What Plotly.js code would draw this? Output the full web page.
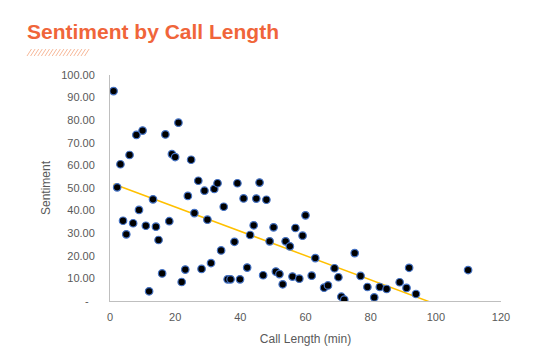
<!DOCTYPE html>
<html>
<head>
<meta charset="utf-8">
<script src="https://cdn.plot.ly/plotly-3.0.1.min.js"></script>
<style>
  html, body { margin: 0; padding: 0; background: #ffffff; }
  #chart { width: 546px; height: 357px; }
</style>
</head>
<body>
<div id="chart"></div>
<script>
// Call length (minutes)
const callLength = [
  1.1, 3.2, 6.0, 8.1, 10.0, 17.0, 21.0, 19.0, 20.0, 24.9,
  27.1, 29.0, 32.0, 33.0, 2.2, 23.9, 13.2, 34.9, 8.9, 4.0,
  7.1, 5.0, 11.0, 14.1, 18.2, 25.9, 29.9, 14.9, 34.1, 31.0,
  28.1, 23.1, 16.0, 22.0, 12.0, 36.1, 37.0, 39.9, 39.1, 45.9,
  41.0, 44.9, 48.0, 60.0, 44.1, 50.2, 56.9, 43.0, 59.1, 38.2,
  49.0, 53.9, 55.2, 63.0, 68.9, 70.1, 42.1, 47.0, 50.9, 52.0,
  56.0, 58.1, 61.9, 53.0, 65.7, 66.9, 71.0, 71.9, 75.1, 91.8,
  109.9, 76.9, 79.0, 82.8, 84.9, 88.9, 91.0, 93.9, 81.1
];
// Sentiment score
const sentiment = [
  92.9, 60.5, 64.6, 73.5, 75.4, 73.7, 78.9, 65.0, 63.7, 62.5,
  53.2, 48.8, 49.6, 52.1, 50.3, 46.5, 45.0, 41.7, 40.3, 35.5,
  34.4, 29.5, 33.3, 32.9, 35.3, 38.9, 36.0, 27.0, 22.4, 16.8,
  14.2, 13.9, 12.2, 8.4, 4.3, 9.6, 9.6, 9.6, 52.1, 52.4,
  45.4, 45.3, 44.8, 37.9, 33.5, 32.6, 32.3, 29.2, 28.9, 26.2,
  26.4, 26.4, 24.2, 19.0, 14.5, 10.5, 14.8, 11.4, 13.0, 11.9,
  10.8, 9.9, 11.2, 7.4, 5.9, 6.9, 1.9, 0.6, 21.2, 14.7,
  13.7, 11.1, 6.2, 6.2, 5.3, 8.3, 5.8, 3.1, 1.6
];
const yTickVals = [0, 10, 20, 30, 40, 50, 60, 70, 80, 90, 100];
const yTickText = ['-\u00A0\u00A0', '10.00', '20.00', '30.00', '40.00', '50.00', '60.00', '70.00', '80.00', '90.00', '100.00'];
const xTickVals = [0, 20, 40, 60, 80, 100, 120];

// Linear trendline (least squares) over the data
const n = callLength.length;
let sx = 0, sy = 0, sxx = 0, sxy = 0;
for (let i = 0; i < n; i++) {
  sx += callLength[i]; sy += sentiment[i];
  sxx += callLength[i] * callLength[i]; sxy += callLength[i] * sentiment[i];
}
const slope = (n * sxy - sx * sy) / (n * sxx - sx * sx);
const intercept = (sy - slope * sx) / n;
const xMin = Math.min(...callLength), xMax = Math.max(...callLength);
const trendX = [xMin, xMax];
const trendY = trendX.map(v => intercept + slope * v);

// Decorative hatch under the title (pixel -> paper conversion)
const plotL = 110, plotW = 391, plotB = 301, plotH = 226;
function px2x(p) { return (p - plotL) / plotW; }
function px2y(p) { return (plotB - p) / plotH; }
let hatch = '';
for (let i = 0; i < 17; i++) {
  const x0 = 27 + i * 3.6;
  hatch += 'M' + px2x(x0) + ',' + px2y(56) + ' L' + px2x(x0 + 4.5) + ',' + px2y(49) + ' ';
}

const axisFont = { family: 'Liberation Sans, Arial, sans-serif', size: 11, color: '#595959' };

const data = [
  {
    type: 'scatter', mode: 'lines',
    x: trendX, y: trendY,
    line: { color: '#FFC000', width: 1.5 },
    hoverinfo: 'skip', showlegend: false
  },
  {
    type: 'scatter', mode: 'markers',
    x: callLength, y: sentiment,
    marker: { color: '#000000', size: 7.5, line: { color: '#4472C4', width: 1.2 } },
    showlegend: false
  }
];

const layout = {
  width: 546, height: 357,
  margin: { l: 110, r: 45, t: 75, b: 56 },
  paper_bgcolor: '#ffffff', plot_bgcolor: '#ffffff',
  showlegend: false,
  title: {
    text: '<b>Sentiment by Call Length</b>',
    font: { family: 'Liberation Sans, Arial, sans-serif', size: 21, color: '#F0653A' },
    xref: 'container', yref: 'container',
    x: 27 / 546, xanchor: 'left',
    y: 1 - 32 / 357, yanchor: 'middle'
  },
  xaxis: {
    range: [0, 120],
    tickvals: xTickVals,
    ticks: 'outside', ticklen: 6, tickcolor: 'rgba(0,0,0,0)',
    tickfont: axisFont,
    showgrid: false, zeroline: false,
    showline: true, linecolor: '#BFBFBF', linewidth: 1,
    title: { text: 'Call Length (min)', font: { family: 'Liberation Sans, Arial, sans-serif', size: 12, color: '#595959' }, standoff: 12 }
  },
  yaxis: {
    range: [0, 100],
    tickvals: yTickVals, ticktext: yTickText,
    ticks: 'outside', ticklen: 12, tickcolor: 'rgba(0,0,0,0)',
    tickfont: axisFont,
    showgrid: false, zeroline: false,
    showline: true, linecolor: '#BFBFBF', linewidth: 1,
    title: { text: 'Sentiment', font: { family: 'Liberation Sans, Arial, sans-serif', size: 12, color: '#595959' }, standoff: 7 }
  },
  shapes: [
    {
      type: 'path', xref: 'paper', yref: 'paper', path: hatch,
      line: { color: '#F7B99A', width: 1 }, layer: 'above'
    }
  ]
};

Plotly.newPlot('chart', data, layout, { staticPlot: true, displayModeBar: false });
</script>
</body>
</html>
